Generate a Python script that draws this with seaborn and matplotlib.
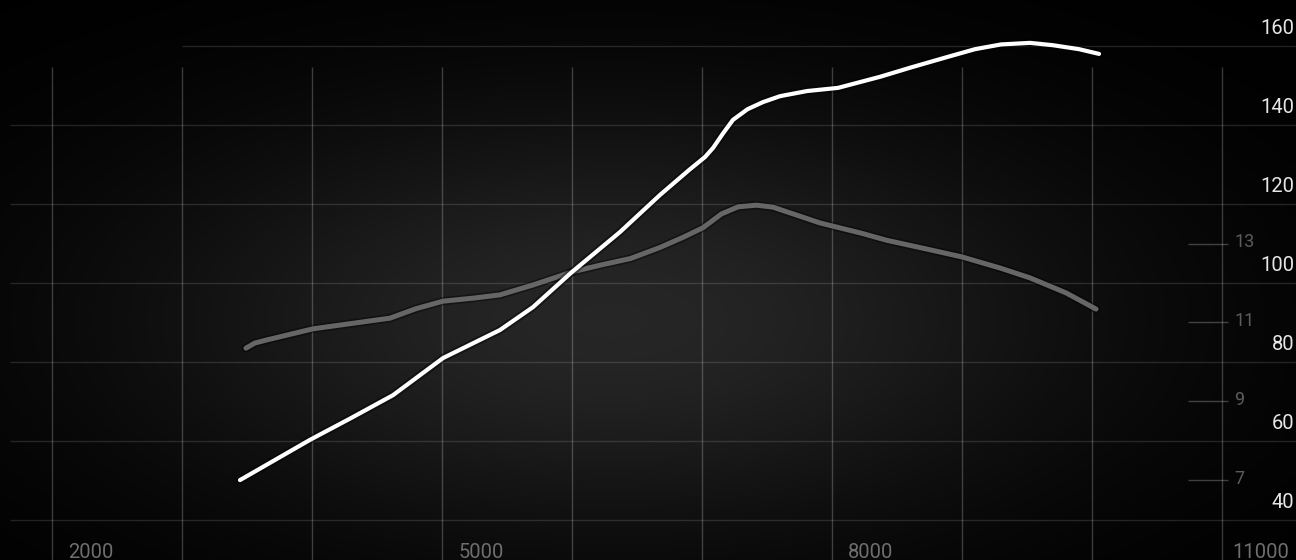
import numpy as np
import matplotlib
matplotlib.use("Agg")
import matplotlib.pyplot as plt
import matplotlib.patheffects as pe
import seaborn as sns

# data
rpm_power = [3446, 3985, 4300, 4623, 5008, 5446, 5700, 6000, 6369, 6677, 6900,
             7023, 7085, 7160, 7238, 7350, 7469, 7600, 7808, 8046, 8369, 8600,
             8885, 9100, 9300, 9523, 9700, 9900, 10054]
power = [50.1, 60.3, 65.8, 71.6, 81.0, 88.1, 93.9, 102.8, 112.9, 122.3, 128.6,
         131.9, 134.2, 137.8, 141.3, 144.0, 145.8, 147.3, 148.6, 149.4, 152.2, 154.5,
         157.2, 159.2, 160.4, 160.8, 160.2, 159.2, 158.0]

rpm_torque = [3492, 3560, 3654, 4008, 4600, 4800, 5008, 5250, 5446, 5700, 6000,
              6215, 6450, 6677, 6850, 7008, 7150, 7280, 7420, 7546, 7700, 7908,
              8215, 8423, 8700, 9000, 9292, 9523, 9800, 10031]
torque = [10.35, 10.48, 10.56, 10.84, 11.11, 11.35, 11.54, 11.62, 11.70, 11.95, 12.28,
          12.45, 12.62, 12.90, 13.15, 13.40, 13.75, 13.93, 13.97, 13.92, 13.75, 13.52,
          13.27, 13.08, 12.88, 12.66, 12.38, 12.13, 11.75, 11.34]

x_grid = [2000, 3000, 4000, 5000, 6000, 7000, 8000, 9000, 10000, 11000]
x_labels = [2000, 5000, 8000, 11000]
power_ticks = [40, 60, 80, 100, 120, 140, 160]
torque_ticks = [7, 9, 11, 13]

sns.set_theme(style="dark")
plt.rcParams["font.family"] = ["Roboto", "DejaVu Sans"]

W, H, DPI = 1296, 560, 100
fig = plt.figure(figsize=(W / DPI, H / DPI), dpi=DPI)
fig.patch.set_facecolor("black")

# lower axes: background + torque, upper axes: power
ax2 = fig.add_axes([0, 0, 1, 1])
ax = fig.add_axes([0, 0, 1, 1])
ax.patch.set_visible(False)

xlim = (1600, 11569)
ylim = (29.87, 171.65)
ax.set_xlim(xlim)
ax.set_ylim(ylim)
ax2.set_xlim(xlim)
ax2.set_ylim(ylim[0] / 10 + 2, ylim[1] / 10 + 2)

# radial glow in the background
yy, xx = np.mgrid[0:H, 0:W]
glow = 0.15 * np.exp(-((xx - 610) / 480.0) ** 2 - ((yy - 320) / 215.0) ** 2)
img = np.dstack([glow, glow, glow])
ax2.imshow(img, extent=(0, 1, 0, 1), transform=ax2.transAxes, aspect="auto",
           origin="upper", zorder=0, interpolation="bilinear")
ax2.set_xlim(xlim)
ax2.set_ylim(ylim[0] / 10 + 2, ylim[1] / 10 + 2)

# grid
ax2.vlines(x_grid, ax2.get_ylim()[0], 154.7 / 10 + 2, color="white", alpha=0.22, lw=1, zorder=1)
for v in power_ticks:
    start = 3000 if v == 160 else 1680
    ax2.hlines(v / 10 + 2, start, xlim[1], color="white", alpha=0.13, lw=1, zorder=1)
ax2.hlines(torque_ticks, 10738, 11046, color="white", alpha=0.24, lw=1, zorder=1)

# curves
shadow = [pe.withStroke(linewidth=6, foreground=(0, 0, 0, 0.4))]
sns.lineplot(x=rpm_torque, y=torque, ax=ax2, color="#666666", lw=3.6,
             sort=False, estimator=None, zorder=3)
sns.lineplot(x=rpm_power, y=power, ax=ax, color="white", lw=3.0,
             sort=False, estimator=None, zorder=4)
for ln in (ax2.lines[-1], ax.lines[-1]):
    ln.set_path_effects(shadow)
    ln.set_solid_capstyle("round")
    ln.set_solid_joinstyle("round")

# tick labels as text inside the plot
for v in x_labels:
    ax.annotate(str(v), xy=(v, 0), xycoords=("data", "axes fraction"),
                xytext=(28.1, 1.4), textcoords="offset points",
                ha="center", va="baseline", color="#6e6e6e", fontsize=14.5)
for v in power_ticks:
    ax.annotate(str(v), xy=(1, v), xycoords=("axes fraction", "data"),
                xytext=(-1.2, 8.8), textcoords="offset points",
                ha="right", va="baseline", color="#e6e6e6", fontsize=14.5)
for v in torque_ticks:
    ax2.annotate(str(v), xy=(11000, v), xycoords="data",
                 xytext=(9.0, 0.8), textcoords="offset points",
                 ha="left", va="center", color="#5c5c5c", fontsize=13)

for a in (ax, ax2):
    a.set_xticks([])
    a.set_yticks([])
    a.set_xlabel("")
    a.set_ylabel("")
    for s in a.spines.values():
        s.set_visible(False)

fig.savefig("out.png", dpi=DPI, facecolor="black")
